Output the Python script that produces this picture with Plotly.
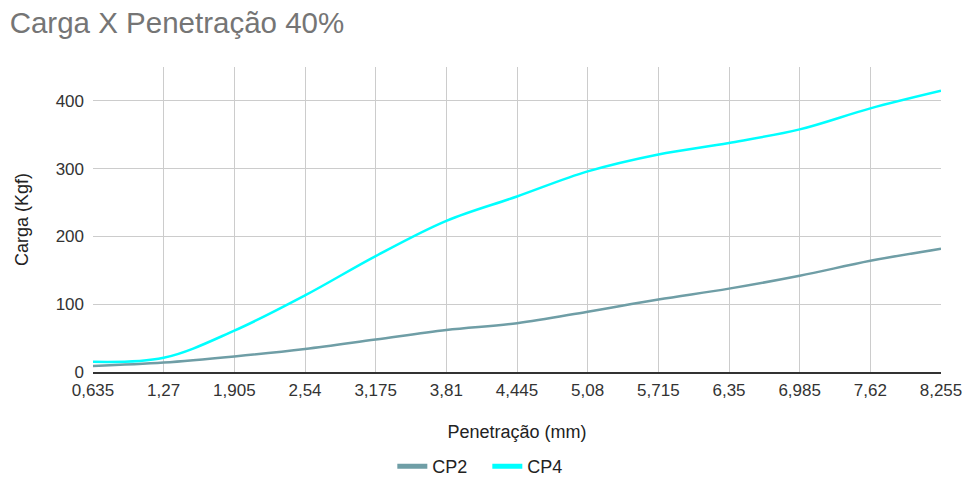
import plotly.graph_objects as go

categories = ["0,635", "1,27", "1,905", "2,54", "3,175", "3,81", "4,445",
              "5,08", "5,715", "6,35", "6,985", "7,62", "8,255"]
cp2 = [9, 14, 23, 34, 48, 62, 72, 89, 107, 123, 142, 164, 182]
cp4 = [15, 21, 61, 113, 171, 223, 259, 296, 321, 338, 358, 389, 415]
y_ticks = [0, 100, 200, 300, 400]
series = [("CP2", cp2, "#6f9ea6"), ("CP4", cp4, "#00ffff")]

fig = go.Figure()
for name, vals, color in series:
    fig.add_trace(go.Scatter(x=categories, y=vals, name=name, mode="lines", showlegend=False,
                             line=dict(color=color, width=2.5, shape="spline", smoothing=1)))
for name, vals, color in series:
    fig.add_trace(go.Scatter(x=[None], y=[None], name=name, mode="lines",
                             line=dict(color=color, width=5)))

fig.update_layout(
    width=965, height=479,
    margin=dict(l=93, r=24, t=67, b=107, autoexpand=False),
    paper_bgcolor="white", plot_bgcolor="white",
    font=dict(family="Arial, Liberation Sans, sans-serif", size=17, color="#222222"),
    title=dict(text="Carga X Penetração 40%", x=0.01, xanchor="left", y=0.952, yanchor="middle",
               font=dict(size=29.5, color="#757575")),
    xaxis=dict(type="category", range=[0, 12], showgrid=True, gridcolor="#cccccc", gridwidth=1,
               showline=True, linecolor="#333333", linewidth=1.5, ticks="", zeroline=False,
               tickfont=dict(size=17, color="#333333"), ticklabelstandoff=2,
               title=dict(text="Penetração (mm)", font=dict(size=18, color="#222222"), standoff=26)),
    yaxis=dict(range=[0, 450], tickvals=y_ticks, showgrid=True, gridcolor="#cccccc", gridwidth=1,
               showline=False, zeroline=False, ticks="", ticklabelstandoff=8,
               tickfont=dict(size=17, color="#333333"),
               title=dict(text="Carga (Kgf)", font=dict(size=18, color="#222222"), standoff=22)),
    legend=dict(orientation="h", xref="container", x=0.505, xanchor="center", y=-0.31, yanchor="middle",
                itemwidth=30, entrywidth=50, font=dict(size=18, color="#222222")),
)

fig.write_html("out.html")
